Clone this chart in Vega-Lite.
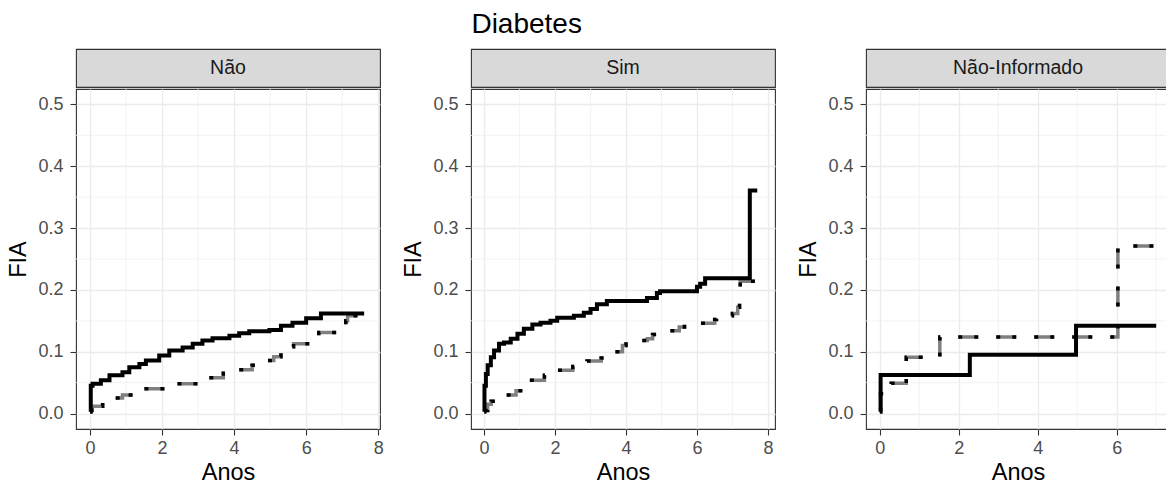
{
  "$schema": "https://vega.github.io/schema/vega-lite/v6.json",
  "background": "white",
  "padding": {"left": 6, "top": 11, "right": 0, "bottom": 0},
  "title": {"text": "Diabetes", "anchor": "start", "dx": 465, "fontSize": 28, "fontWeight": "normal", "color": "#000000", "offset": 9},
  "spacing": 0,
  "datasets": {
    "curves": [
      {"painel": "Não", "curva": "A", "anos": 0, "fia": 0.003},
      {"painel": "Não", "curva": "A", "anos": 0.02, "fia": 0.045},
      {"painel": "Não", "curva": "A", "anos": 0.07, "fia": 0.048},
      {"painel": "Não", "curva": "A", "anos": 0.3, "fia": 0.054},
      {"painel": "Não", "curva": "A", "anos": 0.54, "fia": 0.062},
      {"painel": "Não", "curva": "A", "anos": 0.9, "fia": 0.067},
      {"painel": "Não", "curva": "A", "anos": 1.09, "fia": 0.075},
      {"painel": "Não", "curva": "A", "anos": 1.37, "fia": 0.08},
      {"painel": "Não", "curva": "A", "anos": 1.55, "fia": 0.086},
      {"painel": "Não", "curva": "A", "anos": 1.92, "fia": 0.094},
      {"painel": "Não", "curva": "A", "anos": 2.2, "fia": 0.102},
      {"painel": "Não", "curva": "A", "anos": 2.57, "fia": 0.107},
      {"painel": "Não", "curva": "A", "anos": 2.85, "fia": 0.113},
      {"painel": "Não", "curva": "A", "anos": 3.12, "fia": 0.118},
      {"painel": "Não", "curva": "A", "anos": 3.4, "fia": 0.122},
      {"painel": "Não", "curva": "A", "anos": 3.87, "fia": 0.126},
      {"painel": "Não", "curva": "A", "anos": 4.14, "fia": 0.13},
      {"painel": "Não", "curva": "A", "anos": 4.42, "fia": 0.133},
      {"painel": "Não", "curva": "A", "anos": 4.98, "fia": 0.135},
      {"painel": "Não", "curva": "A", "anos": 5.3, "fia": 0.142},
      {"painel": "Não", "curva": "A", "anos": 5.62, "fia": 0.147},
      {"painel": "Não", "curva": "A", "anos": 6.0, "fia": 0.154},
      {"painel": "Não", "curva": "A", "anos": 6.41, "fia": 0.162},
      {"painel": "Não", "curva": "A", "anos": 7.61, "fia": 0.162},
      {"painel": "Não", "curva": "B", "anos": 0, "fia": 0.005},
      {"painel": "Não", "curva": "B", "anos": 0.05, "fia": 0.012},
      {"painel": "Não", "curva": "B", "anos": 0.35, "fia": 0.018},
      {"painel": "Não", "curva": "B", "anos": 0.6, "fia": 0.025},
      {"painel": "Não", "curva": "B", "anos": 0.9, "fia": 0.03},
      {"painel": "Não", "curva": "B", "anos": 1.3, "fia": 0.035},
      {"painel": "Não", "curva": "B", "anos": 1.45, "fia": 0.04},
      {"painel": "Não", "curva": "B", "anos": 2.1, "fia": 0.043},
      {"painel": "Não", "curva": "B", "anos": 2.4, "fia": 0.048},
      {"painel": "Não", "curva": "B", "anos": 3.1, "fia": 0.052},
      {"painel": "Não", "curva": "B", "anos": 3.3, "fia": 0.058},
      {"painel": "Não", "curva": "B", "anos": 3.7, "fia": 0.065},
      {"painel": "Não", "curva": "B", "anos": 4.1, "fia": 0.071},
      {"painel": "Não", "curva": "B", "anos": 4.5, "fia": 0.078},
      {"painel": "Não", "curva": "B", "anos": 4.9, "fia": 0.086},
      {"painel": "Não", "curva": "B", "anos": 5.1, "fia": 0.092},
      {"painel": "Não", "curva": "B", "anos": 5.3, "fia": 0.1},
      {"painel": "Não", "curva": "B", "anos": 5.5, "fia": 0.108},
      {"painel": "Não", "curva": "B", "anos": 5.65, "fia": 0.113},
      {"painel": "Não", "curva": "B", "anos": 6.2, "fia": 0.12},
      {"painel": "Não", "curva": "B", "anos": 6.35, "fia": 0.131},
      {"painel": "Não", "curva": "B", "anos": 7.1, "fia": 0.15},
      {"painel": "Não", "curva": "B", "anos": 7.15, "fia": 0.158},
      {"painel": "Não", "curva": "B", "anos": 7.6, "fia": 0.158},
      {"painel": "Sim", "curva": "A", "anos": 0, "fia": 0.003},
      {"painel": "Sim", "curva": "A", "anos": 0.01, "fia": 0.045},
      {"painel": "Sim", "curva": "A", "anos": 0.05, "fia": 0.064},
      {"painel": "Sim", "curva": "A", "anos": 0.1, "fia": 0.078},
      {"painel": "Sim", "curva": "A", "anos": 0.19, "fia": 0.091},
      {"painel": "Sim", "curva": "A", "anos": 0.28, "fia": 0.102},
      {"painel": "Sim", "curva": "A", "anos": 0.42, "fia": 0.113},
      {"painel": "Sim", "curva": "A", "anos": 0.56, "fia": 0.115},
      {"painel": "Sim", "curva": "A", "anos": 0.75, "fia": 0.121},
      {"painel": "Sim", "curva": "A", "anos": 0.94, "fia": 0.129},
      {"painel": "Sim", "curva": "A", "anos": 1.12, "fia": 0.137},
      {"painel": "Sim", "curva": "A", "anos": 1.36, "fia": 0.144},
      {"painel": "Sim", "curva": "A", "anos": 1.59, "fia": 0.147},
      {"painel": "Sim", "curva": "A", "anos": 1.87, "fia": 0.15},
      {"painel": "Sim", "curva": "A", "anos": 2.06, "fia": 0.155},
      {"painel": "Sim", "curva": "A", "anos": 2.53, "fia": 0.158},
      {"painel": "Sim", "curva": "A", "anos": 2.81, "fia": 0.163},
      {"painel": "Sim", "curva": "A", "anos": 3.0, "fia": 0.169},
      {"painel": "Sim", "curva": "A", "anos": 3.18, "fia": 0.177},
      {"painel": "Sim", "curva": "A", "anos": 3.46, "fia": 0.182},
      {"painel": "Sim", "curva": "A", "anos": 4.59, "fia": 0.187},
      {"painel": "Sim", "curva": "A", "anos": 4.87, "fia": 0.195},
      {"painel": "Sim", "curva": "A", "anos": 4.96, "fia": 0.198},
      {"painel": "Sim", "curva": "A", "anos": 6.0, "fia": 0.205},
      {"painel": "Sim", "curva": "A", "anos": 6.09, "fia": 0.21},
      {"painel": "Sim", "curva": "A", "anos": 6.23, "fia": 0.219},
      {"painel": "Sim", "curva": "A", "anos": 7.49, "fia": 0.361},
      {"painel": "Sim", "curva": "A", "anos": 7.7, "fia": 0.361},
      {"painel": "Sim", "curva": "B", "anos": 0, "fia": 0.005},
      {"painel": "Sim", "curva": "B", "anos": 0.1, "fia": 0.015},
      {"painel": "Sim", "curva": "B", "anos": 0.2, "fia": 0.02},
      {"painel": "Sim", "curva": "B", "anos": 0.55, "fia": 0.03},
      {"painel": "Sim", "curva": "B", "anos": 0.9, "fia": 0.037},
      {"painel": "Sim", "curva": "B", "anos": 1.25, "fia": 0.054},
      {"painel": "Sim", "curva": "B", "anos": 1.7, "fia": 0.062},
      {"painel": "Sim", "curva": "B", "anos": 2.0, "fia": 0.07},
      {"painel": "Sim", "curva": "B", "anos": 2.5, "fia": 0.076},
      {"painel": "Sim", "curva": "B", "anos": 2.9, "fia": 0.085},
      {"painel": "Sim", "curva": "B", "anos": 3.3, "fia": 0.09},
      {"painel": "Sim", "curva": "B", "anos": 3.6, "fia": 0.1},
      {"painel": "Sim", "curva": "B", "anos": 3.9, "fia": 0.11},
      {"painel": "Sim", "curva": "B", "anos": 4.0, "fia": 0.118},
      {"painel": "Sim", "curva": "B", "anos": 4.6, "fia": 0.121},
      {"painel": "Sim", "curva": "B", "anos": 4.75, "fia": 0.128},
      {"painel": "Sim", "curva": "B", "anos": 5.3, "fia": 0.134},
      {"painel": "Sim", "curva": "B", "anos": 5.5, "fia": 0.14},
      {"painel": "Sim", "curva": "B", "anos": 5.65, "fia": 0.146},
      {"painel": "Sim", "curva": "B", "anos": 6.5, "fia": 0.152},
      {"painel": "Sim", "curva": "B", "anos": 6.55, "fia": 0.158},
      {"painel": "Sim", "curva": "B", "anos": 7.0, "fia": 0.162},
      {"painel": "Sim", "curva": "B", "anos": 7.15, "fia": 0.172},
      {"painel": "Sim", "curva": "B", "anos": 7.2, "fia": 0.185},
      {"painel": "Sim", "curva": "B", "anos": 7.22, "fia": 0.214},
      {"painel": "Sim", "curva": "B", "anos": 7.7, "fia": 0.214},
      {"painel": "Não-Informado", "curva": "A", "anos": 0, "fia": 0.003},
      {"painel": "Não-Informado", "curva": "A", "anos": 0.02, "fia": 0.0625},
      {"painel": "Não-Informado", "curva": "A", "anos": 2.28, "fia": 0.095},
      {"painel": "Não-Informado", "curva": "A", "anos": 4.97, "fia": 0.142},
      {"painel": "Não-Informado", "curva": "A", "anos": 7.0, "fia": 0.142},
      {"painel": "Não-Informado", "curva": "B", "anos": 0, "fia": 0.005},
      {"painel": "Não-Informado", "curva": "B", "anos": 0.02, "fia": 0.032},
      {"painel": "Não-Informado", "curva": "B", "anos": 0.29, "fia": 0.049},
      {"painel": "Não-Informado", "curva": "B", "anos": 0.67, "fia": 0.091},
      {"painel": "Não-Informado", "curva": "B", "anos": 1.52, "fia": 0.124},
      {"painel": "Não-Informado", "curva": "B", "anos": 6.03, "fia": 0.271},
      {"painel": "Não-Informado", "curva": "B", "anos": 7.0, "fia": 0.271}
    ],
    "minorx": [{"v": 1}, {"v": 3}, {"v": 5}, {"v": 7}],
    "minory": [{"v": 0.05}, {"v": 0.15}, {"v": 0.25}, {"v": 0.35}, {"v": 0.45}]
  },
  "vconcat": [
    {
      "bounds": "flush",
      "spacing": 91,
      "hconcat": [
        {
          "width": 304, "height": 38,
          "view": {"fill": "#d9d9d9", "stroke": "#333333", "strokeWidth": 1.1},
          "data": {"values": [{"painel": "Não"}]},
          "mark": {"type": "text", "fontSize": 19.5, "color": "#1a1a1a"},
          "encoding": {
            "text": {"field": "painel"},
            "x": {"field": "painel", "type": "nominal", "axis": null},
            "y": {"field": "painel", "type": "nominal", "axis": null}
          }
        },
        {
          "width": 304, "height": 38,
          "view": {"fill": "#d9d9d9", "stroke": "#333333", "strokeWidth": 1.1},
          "data": {"values": [{"painel": "Sim"}]},
          "mark": {"type": "text", "fontSize": 19.5, "color": "#1a1a1a"},
          "encoding": {
            "text": {"field": "painel"},
            "x": {"field": "painel", "type": "nominal", "axis": null},
            "y": {"field": "painel", "type": "nominal", "axis": null}
          }
        },
        {
          "width": 304, "height": 38,
          "view": {"fill": "#d9d9d9", "stroke": "#333333", "strokeWidth": 1.1},
          "data": {"values": [{"painel": "Não-Informado"}]},
          "mark": {"type": "text", "fontSize": 19.5, "color": "#1a1a1a"},
          "encoding": {
            "text": {"field": "painel"},
            "x": {"field": "painel", "type": "nominal", "axis": null},
            "y": {"field": "painel", "type": "nominal", "axis": null}
          }
        }
      ]
    },
    {
      "bounds": "flush",
      "spacing": 91,
      "hconcat": [
        {
          "width": 304, "height": 340,
          "view": {"stroke": "#333333", "strokeWidth": 1.1},
          "layer": [
            {
              "data": {"name": "minorx"},
              "mark": {"type": "rule", "color": "#f0f0f0", "strokeWidth": 0.8},
              "encoding": {"x": {"field": "v", "type": "quantitative", "title": "Anos", "scale": {"domain": [-0.39, 8.05], "nice": false, "zero": false}}}
            },
            {
              "data": {"name": "minory"},
              "mark": {"type": "rule", "color": "#f0f0f0", "strokeWidth": 0.8},
              "encoding": {"y": {"field": "v", "type": "quantitative", "title": "FIA", "scale": {"domain": [-0.025, 0.525], "nice": false, "zero": false}}}
            },
            {
              "data": {"name": "curves"},
              "transform": [{"filter": "datum.painel === 'Não' && datum.curva === 'B'"}],
              "mark": {"type": "line", "interpolate": "step-after", "color": "#808080", "strokeWidth": 3.5, "strokeDash": [20, 18]},
              "encoding": {
                "x": {"field": "anos", "type": "quantitative", "title": "Anos", "scale": {"domain": [-0.39, 8.05], "nice": false, "zero": false}},
                "y": {"field": "fia", "type": "quantitative", "title": "FIA", "scale": {"domain": [-0.025, 0.525], "nice": false, "zero": false}}
              }
            },
            {
              "data": {"name": "curves"},
              "transform": [{"filter": "datum.painel === 'Não' && datum.curva === 'B'"}],
              "mark": {"type": "line", "interpolate": "step-after", "color": "#000000", "strokeWidth": 3.5, "strokeDash": [4, 12, 4, 18]},
              "encoding": {
                "x": {"field": "anos", "type": "quantitative", "title": "Anos", "scale": {"domain": [-0.39, 8.05], "nice": false, "zero": false}},
                "y": {"field": "fia", "type": "quantitative", "title": "FIA", "scale": {"domain": [-0.025, 0.525], "nice": false, "zero": false}}
              }
            },
            {
              "data": {"name": "curves"},
              "transform": [{"filter": "datum.painel === 'Não' && datum.curva === 'A'"}],
              "mark": {"type": "line", "interpolate": "step-after", "color": "#000000", "strokeWidth": 4},
              "encoding": {
                "x": {"field": "anos", "type": "quantitative", "title": "Anos", "scale": {"domain": [-0.39, 8.05], "nice": false, "zero": false}},
                "y": {"field": "fia", "type": "quantitative", "title": "FIA", "scale": {"domain": [-0.025, 0.525], "nice": false, "zero": false}}
              }
            }
          ]
        },
        {
          "width": 304, "height": 340,
          "view": {"stroke": "#333333", "strokeWidth": 1.1},
          "layer": [
            {
              "data": {"name": "minorx"},
              "mark": {"type": "rule", "color": "#f0f0f0", "strokeWidth": 0.8},
              "encoding": {"x": {"field": "v", "type": "quantitative", "title": "Anos", "scale": {"domain": [-0.37, 8.2], "nice": false, "zero": false}}}
            },
            {
              "data": {"name": "minory"},
              "mark": {"type": "rule", "color": "#f0f0f0", "strokeWidth": 0.8},
              "encoding": {"y": {"field": "v", "type": "quantitative", "title": "FIA", "scale": {"domain": [-0.025, 0.525], "nice": false, "zero": false}}}
            },
            {
              "data": {"name": "curves"},
              "transform": [{"filter": "datum.painel === 'Sim' && datum.curva === 'B'"}],
              "mark": {"type": "line", "interpolate": "step-after", "color": "#808080", "strokeWidth": 3.5, "strokeDash": [20, 18]},
              "encoding": {
                "x": {"field": "anos", "type": "quantitative", "title": "Anos", "scale": {"domain": [-0.37, 8.2], "nice": false, "zero": false}},
                "y": {"field": "fia", "type": "quantitative", "title": "FIA", "scale": {"domain": [-0.025, 0.525], "nice": false, "zero": false}}
              }
            },
            {
              "data": {"name": "curves"},
              "transform": [{"filter": "datum.painel === 'Sim' && datum.curva === 'B'"}],
              "mark": {"type": "line", "interpolate": "step-after", "color": "#000000", "strokeWidth": 3.5, "strokeDash": [4, 12, 4, 18]},
              "encoding": {
                "x": {"field": "anos", "type": "quantitative", "title": "Anos", "scale": {"domain": [-0.37, 8.2], "nice": false, "zero": false}},
                "y": {"field": "fia", "type": "quantitative", "title": "FIA", "scale": {"domain": [-0.025, 0.525], "nice": false, "zero": false}}
              }
            },
            {
              "data": {"name": "curves"},
              "transform": [{"filter": "datum.painel === 'Sim' && datum.curva === 'A'"}],
              "mark": {"type": "line", "interpolate": "step-after", "color": "#000000", "strokeWidth": 4},
              "encoding": {
                "x": {"field": "anos", "type": "quantitative", "title": "Anos", "scale": {"domain": [-0.37, 8.2], "nice": false, "zero": false}},
                "y": {"field": "fia", "type": "quantitative", "title": "FIA", "scale": {"domain": [-0.025, 0.525], "nice": false, "zero": false}}
              }
            }
          ]
        },
        {
          "width": 304, "height": 340,
          "view": {"stroke": "#333333", "strokeWidth": 1.1},
          "layer": [
            {
              "data": {"name": "minorx"},
              "mark": {"type": "rule", "color": "#f0f0f0", "strokeWidth": 0.8},
              "encoding": {"x": {"field": "v", "type": "quantitative", "title": "Anos", "scale": {"domain": [-0.35, 7.35], "nice": false, "zero": false}}}
            },
            {
              "data": {"name": "minory"},
              "mark": {"type": "rule", "color": "#f0f0f0", "strokeWidth": 0.8},
              "encoding": {"y": {"field": "v", "type": "quantitative", "title": "FIA", "scale": {"domain": [-0.025, 0.525], "nice": false, "zero": false}}}
            },
            {
              "data": {"name": "curves"},
              "transform": [{"filter": "datum.painel === 'Não-Informado' && datum.curva === 'B'"}],
              "mark": {"type": "line", "interpolate": "step-after", "color": "#808080", "strokeWidth": 3.5, "strokeDash": [20, 18]},
              "encoding": {
                "x": {"field": "anos", "type": "quantitative", "title": "Anos", "scale": {"domain": [-0.35, 7.35], "nice": false, "zero": false}},
                "y": {"field": "fia", "type": "quantitative", "title": "FIA", "scale": {"domain": [-0.025, 0.525], "nice": false, "zero": false}}
              }
            },
            {
              "data": {"name": "curves"},
              "transform": [{"filter": "datum.painel === 'Não-Informado' && datum.curva === 'B'"}],
              "mark": {"type": "line", "interpolate": "step-after", "color": "#000000", "strokeWidth": 3.5, "strokeDash": [4, 12, 4, 18]},
              "encoding": {
                "x": {"field": "anos", "type": "quantitative", "title": "Anos", "scale": {"domain": [-0.35, 7.35], "nice": false, "zero": false}},
                "y": {"field": "fia", "type": "quantitative", "title": "FIA", "scale": {"domain": [-0.025, 0.525], "nice": false, "zero": false}}
              }
            },
            {
              "data": {"name": "curves"},
              "transform": [{"filter": "datum.painel === 'Não-Informado' && datum.curva === 'A'"}],
              "mark": {"type": "line", "interpolate": "step-after", "color": "#000000", "strokeWidth": 4},
              "encoding": {
                "x": {"field": "anos", "type": "quantitative", "title": "Anos", "scale": {"domain": [-0.35, 7.35], "nice": false, "zero": false}},
                "y": {"field": "fia", "type": "quantitative", "title": "FIA", "scale": {"domain": [-0.025, 0.525], "nice": false, "zero": false}}
              }
            }
          ]
        }
      ]
    }
  ],
  "config": {
    "font": "Liberation Sans",
    "axis": {
      "domain": false,
      "grid": true,
      "gridColor": "#ebebeb",
      "gridWidth": 1.3,
      "tickColor": "#333333",
      "tickSize": 6,
      "tickWidth": 1.1,
      "labelFontSize": 18,
      "labelColor": "#4d4d4d",
      "titleFontSize": 23.5,
      "titleFontWeight": "normal",
      "titleColor": "#000000"
    },
    "axisX": {"tickCount": 5, "labelPadding": 4, "titlePadding": 3},
    "axisY": {"tickCount": 6, "labelPadding": 7, "titlePadding": 7}
  }
}
